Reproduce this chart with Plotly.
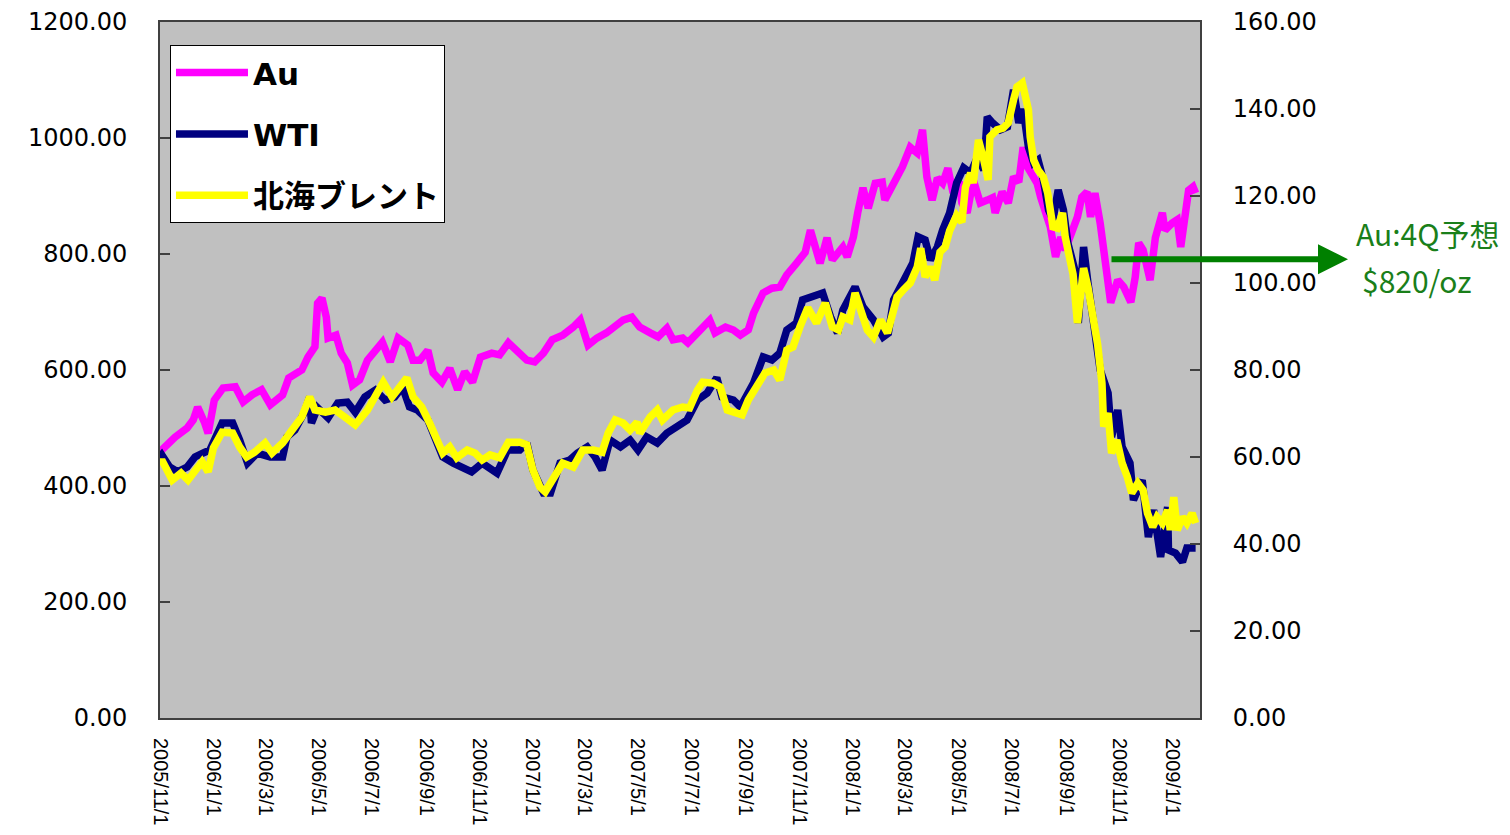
import plotly.graph_objects as go

# ---------------- data ----------------
au_dates = [
    "2005-11-01", "2005-11-03", "2005-11-18", "2005-12-02", "2005-12-09", "2005-12-14", "2005-12-22", "2005-12-26",
    "2006-01-02", "2006-01-12", "2006-01-26", "2006-02-04", "2006-02-14", "2006-02-25", "2006-03-07", "2006-03-21",
    "2006-03-28", "2006-04-12", "2006-04-19", "2006-04-27", "2006-04-30", "2006-05-05", "2006-05-10", "2006-05-12",
    "2006-05-21", "2006-05-27", "2006-06-03", "2006-06-09", "2006-06-17", "2006-06-26", "2006-07-13", "2006-07-22",
    "2006-07-31", "2006-08-11", "2006-08-17", "2006-08-25", "2006-09-03", "2006-09-09", "2006-09-19", "2006-09-28",
    "2006-10-07", "2006-10-15", "2006-10-24", "2006-11-02", "2006-11-15", "2006-11-24", "2006-12-04", "2006-12-14",
    "2006-12-25", "2007-01-03", "2007-01-13", "2007-01-23", "2007-02-04", "2007-02-16", "2007-02-24", "2007-03-05",
    "2007-03-15", "2007-03-26", "2007-04-05", "2007-04-14", "2007-04-24", "2007-05-03", "2007-05-15", "2007-05-24",
    "2007-06-03", "2007-06-10", "2007-06-21", "2007-06-27", "2007-07-08", "2007-07-22", "2007-07-28", "2007-08-09",
    "2007-08-18", "2007-08-26", "2007-09-04", "2007-09-10", "2007-09-21", "2007-10-01", "2007-10-10", "2007-10-18",
    "2007-10-29", "2007-11-08", "2007-11-14", "2007-11-19", "2007-11-25", "2007-12-03", "2007-12-09", "2007-12-16",
    "2007-12-21", "2007-12-26", "2008-01-02", "2008-01-07", "2008-01-13", "2008-01-19", "2008-01-27", "2008-02-04",
    "2008-02-07", "2008-02-15", "2008-02-22", "2008-02-27", "2008-03-07", "2008-03-15", "2008-03-21", "2008-03-26",
    "2008-04-01", "2008-04-07", "2008-04-13", "2008-04-19", "2008-04-25", "2008-05-02", "2008-05-05", "2008-05-11",
    "2008-05-18", "2008-05-26", "2008-06-03", "2008-06-09", "2008-06-12", "2008-06-20", "2008-06-27", "2008-07-03",
    "2008-07-09", "2008-07-14", "2008-07-19", "2008-07-25", "2008-07-30", "2008-08-03", "2008-08-08", "2008-08-14",
    "2008-08-20", "2008-08-26", "2008-08-31", "2008-09-06", "2008-09-14", "2008-09-19", "2008-09-25", "2008-09-29",
    "2008-10-04", "2008-10-10", "2008-10-16", "2008-10-22", "2008-10-30", "2008-11-06", "2008-11-14", "2008-11-19",
    "2008-11-23", "2008-11-28", "2008-12-06", "2008-12-12", "2008-12-20", "2008-12-23", "2008-12-31", "2009-01-06",
    "2009-01-10", "2009-01-15", "2009-01-19", "2009-01-24", "2009-01-27",
]
au_values = [
    458, 462, 484, 500, 514, 536, 509, 491,
    548, 569, 571, 545, 557, 566, 540, 557,
    586, 600, 622, 640, 715, 724, 691, 655,
    660, 629, 612, 574, 583, 617, 648, 614,
    655, 643, 617, 617, 634, 595, 579, 603,
    566, 597, 579, 622, 629, 626, 647, 634,
    617, 614, 629, 652, 660, 674, 686, 643,
    655, 664, 674, 686, 691, 674, 664, 657,
    672, 652, 655, 647, 664, 686, 664, 674,
    669, 660, 669, 698, 733, 741, 743, 764,
    784, 803, 841, 812, 784, 828, 790, 803,
    812, 795, 829, 871, 914, 879, 922, 924,
    893, 916, 933, 950, 984, 974, 1014, 933,
    893, 931, 922, 948, 905, 925, 888, 871,
    928, 888, 893, 897, 871, 907, 888, 933,
    924, 984, 950, 933, 922, 898, 876, 847,
    795, 829, 807, 829, 864, 898, 907, 864,
    905, 853, 790, 716, 755, 743, 717, 760,
    819, 807, 755, 828, 871, 841, 853, 859,
    812, 859, 910, 916, 905,
]

wti_dates = [
    "2005-11-01", "2005-11-03", "2005-11-12", "2005-11-21", "2005-12-02", "2005-12-11", "2005-12-20", "2005-12-28",
    "2006-01-11", "2006-01-23", "2006-01-31", "2006-02-09", "2006-02-20", "2006-03-07", "2006-03-21", "2006-03-26",
    "2006-04-04", "2006-04-15", "2006-04-21", "2006-04-23", "2006-04-30", "2006-05-12", "2006-05-23", "2006-06-03",
    "2006-06-12", "2006-06-23", "2006-07-05", "2006-07-16", "2006-07-27", "2006-08-05", "2006-08-13", "2006-08-22",
    "2006-09-03", "2006-09-20", "2006-10-02", "2006-10-10", "2006-10-23", "2006-11-04", "2006-11-21", "2006-12-03",
    "2006-12-17", "2006-12-25", "2007-01-01", "2007-01-13", "2007-01-21", "2007-02-01", "2007-02-12", "2007-02-21",
    "2007-03-04", "2007-03-13", "2007-03-21", "2007-03-30", "2007-04-11", "2007-04-22", "2007-05-01", "2007-05-11",
    "2007-05-23", "2007-06-03", "2007-06-14", "2007-06-26", "2007-07-08", "2007-07-19", "2007-07-30", "2007-08-05",
    "2007-08-18", "2007-08-26", "2007-09-10", "2007-09-21", "2007-10-01", "2007-10-10", "2007-10-18", "2007-10-29",
    "2007-11-05", "2007-11-17", "2007-11-28", "2007-12-07", "2007-12-15", "2007-12-21", "2008-01-04", "2008-01-13",
    "2008-01-25", "2008-02-05", "2008-02-11", "2008-02-17", "2008-02-28", "2008-03-10", "2008-03-16", "2008-03-24",
    "2008-03-30", "2008-04-07", "2008-04-13", "2008-04-21", "2008-04-29", "2008-05-07", "2008-05-15", "2008-05-23",
    "2008-05-30", "2008-06-03", "2008-06-09", "2008-06-18", "2008-06-26", "2008-07-03", "2008-07-09", "2008-07-14",
    "2008-07-20", "2008-07-26", "2008-07-31", "2008-08-06", "2008-08-12", "2008-08-17", "2008-08-23", "2008-08-29",
    "2008-09-03", "2008-09-11", "2008-09-15", "2008-09-21", "2008-09-26", "2008-10-02", "2008-10-10", "2008-10-19",
    "2008-10-23", "2008-10-30", "2008-11-04", "2008-11-13", "2008-11-17", "2008-11-27", "2008-12-04", "2008-12-10",
    "2008-12-18", "2008-12-26", "2008-12-27", "2009-01-04", "2009-01-12", "2009-01-17", "2009-01-27",
]
wti_values = [
    60.0, 60.5, 57.7, 56.6, 57.7, 60.0, 60.9, 61.6,
    67.8, 67.8, 63.9, 58.6, 60.9, 60.0, 60.0, 64.6,
    66.2, 70.3, 73.8, 67.8, 71.3, 69.0, 72.4, 72.6,
    70.3, 73.8, 75.4, 73.1, 73.8, 76.1, 71.5, 70.8,
    68.5, 60.0, 58.6, 57.7, 56.6, 58.6, 56.3, 61.6,
    61.6, 63.2, 57.0, 51.7, 51.7, 58.6, 59.3, 60.9,
    62.3, 60.0, 57.0, 63.9, 62.3, 63.9, 61.6, 64.6,
    63.2, 65.5, 66.9, 68.5, 73.1, 74.7, 78.2, 73.8,
    73.1, 71.5, 77.0, 83.0, 82.3, 83.9, 89.2, 90.8,
    96.1, 96.8, 97.7, 92.2, 88.5, 93.8, 99.1, 94.5,
    91.5, 87.6, 88.5, 96.1, 100.7, 104.6, 110.6, 109.9,
    105.3, 108.3, 112.2, 116.1, 123.0, 126.5, 125.3, 129.0,
    126.0, 138.2, 136.8, 135.2, 135.9, 144.4, 136.8, 140.0,
    131.3, 127.6, 128.3, 123.7, 116.8, 114.5, 121.4, 116.8,
    109.2, 103.0, 90.8, 108.3, 100.0, 89.9, 80.0, 74.7,
    64.6, 70.8, 62.3, 58.6, 50.1, 54.7, 41.6, 47.8,
    37.0, 48.5, 38.6, 37.9, 35.9, 39.1, 39.1,
]

brent_dates = [
    "2005-11-01", "2005-11-03", "2005-11-15", "2005-11-25", "2005-12-03", "2005-12-11", "2005-12-19", "2005-12-26",
    "2006-01-01", "2006-01-11", "2006-01-23", "2006-01-31", "2006-02-08", "2006-02-17", "2006-03-01", "2006-03-09",
    "2006-03-21", "2006-03-30", "2006-04-12", "2006-04-21", "2006-04-27", "2006-05-09", "2006-05-20", "2006-05-31",
    "2006-06-12", "2006-06-26", "2006-07-07", "2006-07-14", "2006-07-24", "2006-07-31", "2006-08-10", "2006-08-17",
    "2006-08-27", "2006-09-05", "2006-09-13", "2006-09-20", "2006-09-28", "2006-10-06", "2006-10-18", "2006-10-27",
    "2006-11-04", "2006-11-13", "2006-11-24", "2006-12-04", "2006-12-17", "2006-12-25", "2007-01-01", "2007-01-09",
    "2007-01-15", "2007-01-24", "2007-02-04", "2007-02-16", "2007-02-27", "2007-03-11", "2007-03-21", "2007-03-28",
    "2007-04-05", "2007-04-14", "2007-04-22", "2007-04-30", "2007-05-03", "2007-05-15", "2007-05-23", "2007-05-29",
    "2007-06-10", "2007-06-21", "2007-06-29", "2007-07-08", "2007-07-14", "2007-07-26", "2007-08-03", "2007-08-11",
    "2007-08-20", "2007-08-28", "2007-09-04", "2007-09-14", "2007-09-23", "2007-10-03", "2007-10-10", "2007-10-18",
    "2007-10-25", "2007-11-02", "2007-11-11", "2007-11-21", "2007-12-01", "2007-12-09", "2007-12-16", "2007-12-21",
    "2007-12-29", "2008-01-04", "2008-01-10", "2008-01-18", "2008-01-25", "2008-02-02", "2008-02-10", "2008-02-15",
    "2008-02-21", "2008-02-28", "2008-03-07", "2008-03-15", "2008-03-19", "2008-03-24", "2008-03-30", "2008-04-04",
    "2008-04-10", "2008-04-16", "2008-04-21", "2008-04-29", "2008-05-05", "2008-05-09", "2008-05-15", "2008-05-18",
    "2008-05-24", "2008-05-30", "2008-06-04", "2008-06-06", "2008-06-14", "2008-06-21", "2008-06-27", "2008-07-03",
    "2008-07-07", "2008-07-13", "2008-07-16", "2008-07-20", "2008-07-22", "2008-07-26", "2008-07-31", "2008-08-06",
    "2008-08-11", "2008-08-14", "2008-08-17", "2008-08-22", "2008-08-28", "2008-08-31", "2008-09-04", "2008-09-09",
    "2008-09-14", "2008-09-21", "2008-09-26", "2008-10-01", "2008-10-07", "2008-10-12", "2008-10-14", "2008-10-19",
    "2008-10-23", "2008-10-29", "2008-11-04", "2008-11-10", "2008-11-15", "2008-11-22", "2008-11-28", "2008-12-03",
    "2008-12-09", "2008-12-14", "2008-12-20", "2008-12-26", "2008-12-29", "2009-01-02", "2009-01-06", "2009-01-12",
    "2009-01-17", "2009-01-23", "2009-01-27",
]
brent_values = [
    58.5, 59.3, 54.7, 56.3, 54.7, 57.0, 58.9, 56.6,
    62.1, 65.7, 65.5, 62.3, 60.0, 61.1, 63.2, 60.9,
    63.2, 65.7, 69.2, 73.8, 70.8, 70.3, 70.8, 69.2,
    67.4, 70.8, 74.3, 77.2, 73.8, 75.4, 78.2, 73.8,
    71.5, 67.8, 63.9, 60.9, 62.3, 59.8, 61.6, 60.9,
    59.3, 60.5, 59.8, 63.4, 63.4, 62.8, 57.0, 53.1,
    52.0, 54.7, 58.6, 57.7, 61.6, 61.6, 61.1, 65.5,
    68.5, 67.8, 66.2, 68.0, 65.5, 69.2, 70.8, 68.5,
    70.8, 71.5, 71.3, 75.4, 77.2, 77.0, 76.1, 70.8,
    70.3, 69.7, 73.1, 76.1, 79.3, 80.0, 77.7, 84.6,
    85.3, 89.9, 94.3, 90.8, 95.4, 89.9, 89.2, 92.2,
    91.5, 97.7, 93.8, 89.2, 87.6, 91.5, 88.5, 93.1,
    96.8, 98.4, 100.0, 103.7, 108.0, 101.4, 103.7, 100.7,
    107.1, 108.3, 112.0, 115.5, 114.0, 122.0, 125.3, 123.0,
    132.9, 128.3, 123.7, 133.6, 135.2, 135.6, 136.8, 142.1,
    145.1, 146.0, 143.7, 139.8, 133.6, 128.3, 126.0, 124.4,
    120.7, 116.8, 112.9, 112.6, 116.1, 110.6, 106.5, 102.0,
    90.8, 103.4, 99.0, 94.0, 86.0, 77.0, 67.0, 70.1,
    60.9, 63.9, 58.6, 55.4, 51.7, 54.0, 52.4, 47.1,
    43.9, 46.2, 44.8, 47.8, 43.2, 50.8, 43.2, 46.2,
    44.8, 47.1, 44.8,
]

x_tick_values = [
    "2005-11-01", "2006-01-01", "2006-03-01", "2006-05-01", "2006-07-01", "2006-09-01", "2006-11-01",
    "2007-01-01", "2007-03-01", "2007-05-01", "2007-07-01", "2007-09-01", "2007-11-01",
    "2008-01-01", "2008-03-01", "2008-05-01", "2008-07-01", "2008-09-01", "2008-11-01", "2009-01-01",
]
x_tick_labels = [
    "2005/11/1", "2006/1/1", "2006/3/1", "2006/5/1", "2006/7/1", "2006/9/1", "2006/11/1",
    "2007/1/1", "2007/3/1", "2007/5/1", "2007/7/1", "2007/9/1", "2007/11/1",
    "2008/1/1", "2008/3/1", "2008/5/1", "2008/7/1", "2008/9/1", "2008/11/1", "2009/1/1",
]

series_names = ["Au", "WTI", "北海ブレント"]
series_colors = ["#FF00FF", "#000080", "#FFFF00"]

forecast_arrow_start = ("2008-10-22", 791)
forecast_label_1 = "Au:4Q予想"
forecast_label_2 = "$820/oz"

# ---------------- figure ----------------
fig = go.Figure()
fig.add_trace(go.Scatter(x=au_dates, y=au_values, name=series_names[0], mode="lines",
                         line=dict(color=series_colors[0], width=7.5), legendgroup="a", yaxis="y"))
fig.add_trace(go.Scatter(x=wti_dates, y=wti_values, name=series_names[1], mode="lines",
                         line=dict(color=series_colors[1], width=7.5), legendgroup="b", yaxis="y2"))
fig.add_trace(go.Scatter(x=brent_dates, y=brent_values, name=series_names[2], mode="lines",
                         line=dict(color=series_colors[2], width=7.5), legendgroup="c", yaxis="y2"))

axis_line = "#404040"
num_font = dict(family="DejaVu Sans, Noto Sans CJK JP, sans-serif", size=24, color="black")

# the page body adds an 8px margin, so the figure is 16px smaller than the window
fig.update_layout(
    width=1502, height=827,
    margin=dict(l=152, r=310, t=14, b=117, pad=0),
    paper_bgcolor="white",
    plot_bgcolor="#C0C0C0",
    showlegend=True,
    legend=dict(
        x=0.0096, y=0.967, xanchor="left", yanchor="top",
        bgcolor="white", bordercolor="black", borderwidth=1,
        font=dict(family="DejaVu Sans, Noto Sans CJK JP, sans-serif", size=31, color="black", weight="bold"),
        traceorder="grouped", tracegroupgap=18,
        itemwidth=72,
    ),
    xaxis=dict(
        type="date", automargin=False,
        range=["2005-11-01", "2009-02-01"],
        tickmode="array", tickvals=x_tick_values, ticktext=x_tick_labels,
        tickangle=90, ticks="", ticklabelstandoff=14,
        tickfont=dict(family="Liberation Sans, Arial, sans-serif", size=20, color="black"),
        showgrid=False, zeroline=False,
        showline=True, linecolor=axis_line, linewidth=2, mirror=True,
        ticklabeloverflow="allow",
    ),
    yaxis=dict(
        automargin=False,
        range=[0, 1200], dtick=200, tick0=0, tickformat=".2f",
        ticks="inside", ticklen=10, tickcolor=axis_line, tickwidth=1.5,
        ticklabelstandoff=26, ticklabeloverflow="allow",
        tickfont=num_font,
        showgrid=False, zeroline=False,
        showline=True, linecolor=axis_line, linewidth=2,
    ),
    yaxis2=dict(
        automargin=False,
        range=[0, 160], dtick=20, tick0=0, tickformat=".2f",
        overlaying="y", side="right",
        ticks="inside", ticklen=10, tickcolor=axis_line, tickwidth=1.5,
        ticklabelstandoff=26, ticklabeloverflow="allow",
        tickfont=num_font,
        showgrid=False, zeroline=False,
        showline=True, linecolor=axis_line, linewidth=2,
    ),
)

# forecast arrow and labels
fig.add_annotation(
    xref="paper", yref="y", x=1.1423, y=forecast_arrow_start[1],
    ax=-238, ay=0, axref="pixel", ayref="pixel",
    text="", showarrow=True, arrowhead=2, arrowsize=1, arrowwidth=6, arrowcolor="#008000",
)
fig.add_annotation(
    xref="paper", yref="paper", x=1.2195, y=0.697, xanchor="center", yanchor="middle",
    text=forecast_label_1, showarrow=False,
    font=dict(family="Noto Sans CJK JP, sans-serif", size=30, color="#1a7f1a"),
)
fig.add_annotation(
    xref="paper", yref="paper", x=1.2086, y=0.629, xanchor="center", yanchor="middle",
    text=forecast_label_2, showarrow=False,
    font=dict(family="Noto Sans CJK JP, sans-serif", size=30, color="#1a7f1a"),
)

fig.write_html("out.html")
